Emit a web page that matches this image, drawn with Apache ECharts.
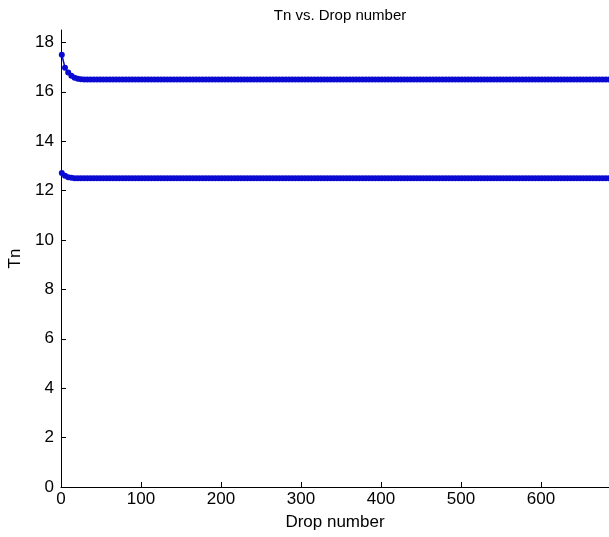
<!DOCTYPE html>
<html>
<head>
<meta charset="utf-8">
<script src="https://cdn.jsdelivr.net/npm/echarts@6/dist/echarts.min.js"></script>
<style>
  html, body { margin: 0; padding: 0; background: #fff; }
  #chart_tn { width: 609px; height: 537px; }
</style>
</head>
<body>
<div id="chart_tn"></div>
<script>
// drop numbers (sampled every 4th drop)
var drops = [
    1, 5, 9, 13, 17, 21, 25, 29, 33, 37,
    41, 45, 49, 53, 57, 61, 65, 69, 73, 77,
    81, 85, 89, 93, 97, 101, 105, 109, 113, 117,
    121, 125, 129, 133, 137, 141, 145, 149, 153, 157,
    161, 165, 169, 173, 177, 181, 185, 189, 193, 197,
    201, 205, 209, 213, 217, 221, 225, 229, 233, 237,
    241, 245, 249, 253, 257, 261, 265, 269, 273, 277,
    281, 285, 289, 293, 297, 301, 305, 309, 313, 317,
    321, 325, 329, 333, 337, 341, 345, 349, 353, 357,
    361, 365, 369, 373, 377, 381, 385, 389, 393, 397,
    401, 405, 409, 413, 417, 421, 425, 429, 433, 437,
    441, 445, 449, 453, 457, 461, 465, 469, 473, 477,
    481, 485, 489, 493, 497, 501, 505, 509, 513, 517,
    521, 525, 529, 533, 537, 541, 545, 549, 553, 557,
    561, 565, 569, 573, 577, 581, 585, 589, 593, 597,
    601, 605, 609, 613, 617, 621, 625, 629, 633, 637,
    641, 645, 649, 653, 657, 661, 665, 669, 673, 677,
    681, 685
];
var tnUpper = [
    17.5, 16.97, 16.78, 16.65, 16.57, 16.53, 16.51, 16.5, 16.5, 16.5,
    16.5, 16.5, 16.5, 16.5, 16.5, 16.5, 16.5, 16.5, 16.5, 16.5,
    16.5, 16.5, 16.5, 16.5, 16.5, 16.5, 16.5, 16.5, 16.5, 16.5,
    16.5, 16.5, 16.5, 16.5, 16.5, 16.5, 16.5, 16.5, 16.5, 16.5,
    16.5, 16.5, 16.5, 16.5, 16.5, 16.5, 16.5, 16.5, 16.5, 16.5,
    16.5, 16.5, 16.5, 16.5, 16.5, 16.5, 16.5, 16.5, 16.5, 16.5,
    16.5, 16.5, 16.5, 16.5, 16.5, 16.5, 16.5, 16.5, 16.5, 16.5,
    16.5, 16.5, 16.5, 16.5, 16.5, 16.5, 16.5, 16.5, 16.5, 16.5,
    16.5, 16.5, 16.5, 16.5, 16.5, 16.5, 16.5, 16.5, 16.5, 16.5,
    16.5, 16.5, 16.5, 16.5, 16.5, 16.5, 16.5, 16.5, 16.5, 16.5,
    16.5, 16.5, 16.5, 16.5, 16.5, 16.5, 16.5, 16.5, 16.5, 16.5,
    16.5, 16.5, 16.5, 16.5, 16.5, 16.5, 16.5, 16.5, 16.5, 16.5,
    16.5, 16.5, 16.5, 16.5, 16.5, 16.5, 16.5, 16.5, 16.5, 16.5,
    16.5, 16.5, 16.5, 16.5, 16.5, 16.5, 16.5, 16.5, 16.5, 16.5,
    16.5, 16.5, 16.5, 16.5, 16.5, 16.5, 16.5, 16.5, 16.5, 16.5,
    16.5, 16.5, 16.5, 16.5, 16.5, 16.5, 16.5, 16.5, 16.5, 16.5,
    16.5, 16.5, 16.5, 16.5, 16.5, 16.5, 16.5, 16.5, 16.5, 16.5,
    16.5, 16.5
];
var tnLower = [
    12.71, 12.6, 12.54, 12.52, 12.5, 12.5, 12.5, 12.5, 12.5, 12.5,
    12.5, 12.5, 12.5, 12.5, 12.5, 12.5, 12.5, 12.5, 12.5, 12.5,
    12.5, 12.5, 12.5, 12.5, 12.5, 12.5, 12.5, 12.5, 12.5, 12.5,
    12.5, 12.5, 12.5, 12.5, 12.5, 12.5, 12.5, 12.5, 12.5, 12.5,
    12.5, 12.5, 12.5, 12.5, 12.5, 12.5, 12.5, 12.5, 12.5, 12.5,
    12.5, 12.5, 12.5, 12.5, 12.5, 12.5, 12.5, 12.5, 12.5, 12.5,
    12.5, 12.5, 12.5, 12.5, 12.5, 12.5, 12.5, 12.5, 12.5, 12.5,
    12.5, 12.5, 12.5, 12.5, 12.5, 12.5, 12.5, 12.5, 12.5, 12.5,
    12.5, 12.5, 12.5, 12.5, 12.5, 12.5, 12.5, 12.5, 12.5, 12.5,
    12.5, 12.5, 12.5, 12.5, 12.5, 12.5, 12.5, 12.5, 12.5, 12.5,
    12.5, 12.5, 12.5, 12.5, 12.5, 12.5, 12.5, 12.5, 12.5, 12.5,
    12.5, 12.5, 12.5, 12.5, 12.5, 12.5, 12.5, 12.5, 12.5, 12.5,
    12.5, 12.5, 12.5, 12.5, 12.5, 12.5, 12.5, 12.5, 12.5, 12.5,
    12.5, 12.5, 12.5, 12.5, 12.5, 12.5, 12.5, 12.5, 12.5, 12.5,
    12.5, 12.5, 12.5, 12.5, 12.5, 12.5, 12.5, 12.5, 12.5, 12.5,
    12.5, 12.5, 12.5, 12.5, 12.5, 12.5, 12.5, 12.5, 12.5, 12.5,
    12.5, 12.5, 12.5, 12.5, 12.5, 12.5, 12.5, 12.5, 12.5, 12.5,
    12.5, 12.5
];
var xTicks = [0, 100, 200, 300, 400, 500, 600];
var yTicks = [0, 2, 4, 6, 8, 10, 12, 14, 16, 18];

function pairs(xs, ys) {
    var out = [];
    for (var i = 0; i < xs.length && i < ys.length; i++) {
        out.push([xs[i], ys[i]]);
    }
    return out;
}

var font = 'Liberation Sans, Arial, sans-serif';
var blue = '#0a0ad2';

var myChart = echarts.init(document.getElementById('chart_tn'));
var option = {
    animation: false,
    backgroundColor: '#fff',
    title: {
        text: 'Tn vs. Drop number',
        left: 335,
        textAlign: 'center',
        top: 3,
        textStyle: { fontFamily: font, fontSize: 15, fontWeight: 'normal', color: '#000' }
    },
    grid: { left: 61, right: 0, top: 30, bottom: 50, outerBoundsMode: 'none', containLabel: false },
    xAxis: {
        type: 'value',
        min: 0,
        max: 685,
        name: 'Drop number',
        nameLocation: 'middle',
        nameGap: 27,
        nameTextStyle: { fontFamily: font, fontSize: 17, color: '#000' },
        splitLine: { show: false },
        axisLine: { onZero: false, lineStyle: { color: '#000', width: 1 } },
        axisTick: { inside: true, length: 5, customValues: xTicks, lineStyle: { color: '#000' } },
        axisLabel: { customValues: xTicks, fontFamily: font, fontSize: 17, color: '#000', margin: 4 }
    },
    yAxis: {
        type: 'value',
        min: 0,
        max: 18.5,
        name: 'Tn',
        nameLocation: 'middle',
        nameGap: 30,
        nameRotate: 90,
        nameTextStyle: { fontFamily: font, fontSize: 17, color: '#000' },
        splitLine: { show: false },
        axisLine: { onZero: false, lineStyle: { color: '#000', width: 1 } },
        axisTick: { inside: true, length: 5, customValues: yTicks, lineStyle: { color: '#000' } },
        axisLabel: { customValues: yTicks, fontFamily: font, fontSize: 17, color: '#000', margin: 7 }
    },
    series: [
        {
            type: 'line',
            data: pairs(drops, tnUpper),
            symbol: 'circle',
            symbolSize: 6,
            showAllSymbol: true,
            itemStyle: { color: blue },
            lineStyle: { color: blue, width: 1.5 }
        },
        {
            type: 'line',
            data: pairs(drops, tnLower),
            symbol: 'circle',
            symbolSize: 6,
            showAllSymbol: true,
            itemStyle: { color: blue },
            lineStyle: { color: blue, width: 1.5 }
        }
    ]
};
myChart.setOption(option);
</script>
</body>
</html>
